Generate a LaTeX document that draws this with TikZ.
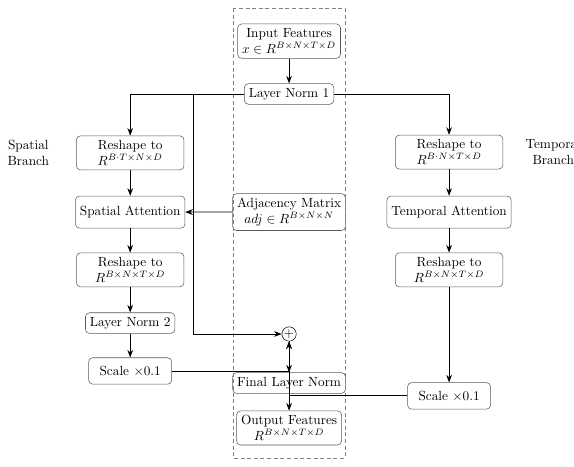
\documentclass[tikz,border=0pt]{standalone}
\usepackage{tikz}
\usetikzlibrary{positioning,calc,arrows.meta}
\usepackage{amssymb}
\usepackage{amsmath}

\tikzset{
  block/.style={draw=black!65, rounded corners=3pt, align=center},
  wideblock/.style={block, minimum width=2.85cm, minimum height=0.85cm},
  scaleblock/.style={block, minimum width=2.2cm, minimum height=0.7cm},
  flow/.style={->, semithick},
}

\begin{document}
\begin{tikzpicture}[node distance=1.5cm, >=Stealth]
    \useasboundingbox (-7.66,2.49) rectangle (7.55,-9.86);
    % centre column
    \node[block] (ln1) at (0,0) {Layer Norm 1};
    \node[block, minimum width=2.65cm, above of=ln1, node distance=1.4cm] (input) {Input Features\\$x \in R^{B\times N\times T\times D}$};
    \node[block, below of=ln1, node distance=3.13cm] (adj) {Adjacency Matrix\\$adj \in R^{B\times N\times N}$};
    \node[draw, circle, inner sep=0pt, minimum size=0.38cm, below of=adj, node distance=3.23cm] (plus) {$+$};
    \node[block, below of=plus, node distance=1.3cm] (final) {Final Layer Norm};
    \node[block, minimum width=2.7cm, below of=final, node distance=1.19cm] (output) {Output Features\\$R^{B\times N\times T\times D}$};
    % spatial branch
    \node[wideblock, below of=ln1, node distance=1.56cm, xshift=-4.21cm] (sreshape1) {Reshape to\\$R^{B\cdot T\times N\times D}$};
    \node[wideblock, below of=sreshape1, node distance=1.57cm] (sattn) {Spatial Attention};
    \node[wideblock, below of=sattn, node distance=1.53cm] (sreshape2) {Reshape to\\$R^{B\times N\times T\times D}$};
    \node[block, below of=sreshape2, node distance=1.41cm] (ln2) {Layer Norm 2};
    \node[scaleblock, below of=ln2, node distance=1.27cm] (sscale) {Scale $\times 0.1$};
    \node[align=center, left of=sreshape1, node distance=2.7cm] (slabel) {Spatial\\Branch};
    % temporal branch
    \node[wideblock, below of=ln1, node distance=1.54cm, xshift=4.24cm] (treshape1) {Reshape to\\$R^{B\cdot N\times T\times D}$};
    \node[wideblock, below of=treshape1, node distance=1.59cm] (tattn) {Temporal Attention};
    \node[wideblock, below of=tattn, node distance=1.53cm] (treshape2) {Reshape to\\$R^{B\times N\times T\times D}$};
    \node[scaleblock, below of=treshape2, node distance=3.34cm] (tscale) {Scale $\times 0.1$};
    \node[align=center, right of=treshape1, node distance=2.76cm] (tlabel) {Temporal\\Branch};
    %
    \draw[densely dashed, gray] ($(ln1)+(-1.48,2.28)$) rectangle ($(ln1)+(1.48,-9.65)$);
    \coordinate[left of=ln1, node distance=2.54cm] (restop);
    %
    \draw[flow] (input) -- (ln1);
    \draw[flow] (ln1.west) -| (sreshape1);
    \draw[flow] (ln1.east) -| (treshape1);
    \draw[flow] (sreshape1) -- (sattn);
    \draw[flow] (sattn) -- (sreshape2);
    \draw[flow] (sreshape2) -- (ln2);
    \draw[flow] (ln2) -- (sscale);
    \draw[flow] (treshape1) -- (tattn);
    \draw[flow] (tattn) -- (treshape2);
    \draw[flow] (treshape2) -- (tscale);
    \draw[flow] (adj) -- (sattn);
    \draw[flow] (restop) |- (plus);
    \draw[flow] (sscale) -| (plus);
    \draw[flow] (tscale) -| (plus);
    \draw[flow] (plus) -- (final);
    \draw[flow] (final) -- (output);
  \end{tikzpicture}
\end{document}
